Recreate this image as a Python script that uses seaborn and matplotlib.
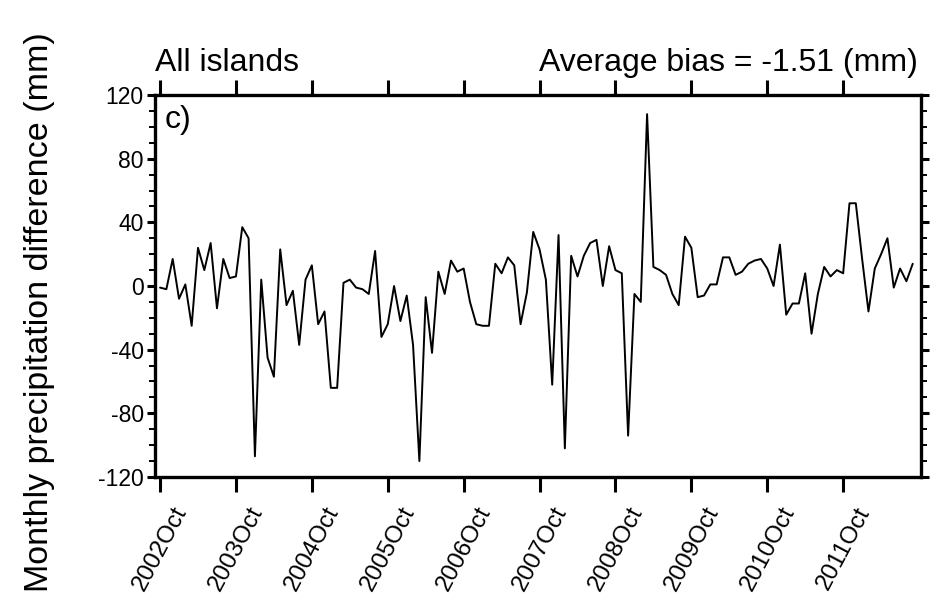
import numpy as np
import pandas as pd
import matplotlib
matplotlib.use("Agg")
import matplotlib.pyplot as plt
import matplotlib.transforms as mtransforms
from matplotlib.ticker import MultipleLocator
import seaborn as sns

# ---- data (month index 0 = 2002 Oct) ----
values = [
    -1, -2, 17, -8, 1, -25, 24, 10, 27, -14, 17, 5,
    6, 37, 30, -107, 4, -45, -57, 23, -12, -3, -37, 4,
    13, -24, -16, -64, -64, 2, 4, -1, -2, -5, 22, -32,
    -24, 0, -22, -6, -37, -110, -7, -42, 9, -5, 16, 9,
    11, -10, -24, -25, -25, 14, 8, 18, 13, -24, -4, 34,
    23, 4, -62, 32, -102, 19, 6, 19, 27, 29, 0, 25,
    10, 8, -94, -5, -10, 108, 12, 10, 7, -5, -12, 31,
    24, -7, -6, 1, 1, 18, 18, 7, 9, 14, 16, 17,
    11, 0, 26, -18, -11, -11, 8, -30, -5, 12, 6, 10,
    8, 52, 52, 17, -16, 11, 20, 30, -1, 11, 3, 14,
]
months = list(range(len(values)))
tick_positions = [0, 12, 24, 36, 48, 60, 72, 84, 96, 108]
tick_labels = ["2002Oct", "2003Oct", "2004Oct", "2005Oct", "2006Oct",
               "2007Oct", "2008Oct", "2009Oct", "2010Oct", "2011Oct"]
y_ticks = [-120, -80, -40, 0, 40, 80, 120]
left_title = "All islands"
right_title = "Average bias = -1.51 (mm)"
panel_label = "c)"
y_label = "Monthly precipitation difference (mm)"

df = pd.DataFrame({"month": months, "diff": values})

sns.set_theme(style="white")
plt.rcParams["font.family"] = ["Liberation Sans", "DejaVu Sans"]

fig = plt.figure(figsize=(9.41, 5.94), dpi=100)
ax = fig.add_axes([0.1647, 0.197, 0.8140, 0.643])

sns.lineplot(data=df, x="month", y="diff", color="black", linewidth=1.4,
             errorbar=None, ax=ax)

ax.set_xlim(-0.8, 120.3)
ax.set_ylim(-120, 120)

for s in ax.spines.values():
    s.set_visible(True)
    s.set_linewidth(2.4)
    s.set_color("black")

ax.set_xticks(tick_positions)
ax.set_xticklabels(tick_labels, rotation=62, ha="right", va="center",
                   rotation_mode="anchor")
ax.set_yticks(y_ticks)
ax.set_yticklabels([str(v) for v in y_ticks])
ax.yaxis.set_minor_locator(MultipleLocator(10))

ax.tick_params(axis="x", which="major", direction="out", length=10.5, width=2.2,
               top=True, bottom=True, labelsize=17.5, pad=12, colors="black")
ax.tick_params(axis="y", which="major", direction="out", length=6, width=2.2,
               left=True, right=True, labelsize=16.5, pad=2, colors="black")
ax.tick_params(axis="y", which="minor", direction="out", length=4, width=1.4,
               left=True, right=True, colors="black")

offset = mtransforms.ScaledTranslation(22 / 100, 0, fig.dpi_scale_trans)
for lab in ax.get_xticklabels():
    lab.set_transform(lab.get_transform() + offset)

ax.set_xlabel("")
ax.set_ylabel(y_label, fontsize=24.5, color="black")
ax.yaxis.set_label_coords(-0.1305, 0.432)

ax.text(0.0, 1.063, left_title, transform=ax.transAxes, ha="left",
        va="baseline", fontsize=23, color="black")
ax.text(0.996, 1.063, right_title, transform=ax.transAxes, ha="right",
        va="baseline", fontsize=23, color="black")
ax.text(0.012, 0.975, panel_label, transform=ax.transAxes, ha="left",
        va="top", fontsize=23, color="black")

fig.savefig("out.png", dpi=100, facecolor="white")
